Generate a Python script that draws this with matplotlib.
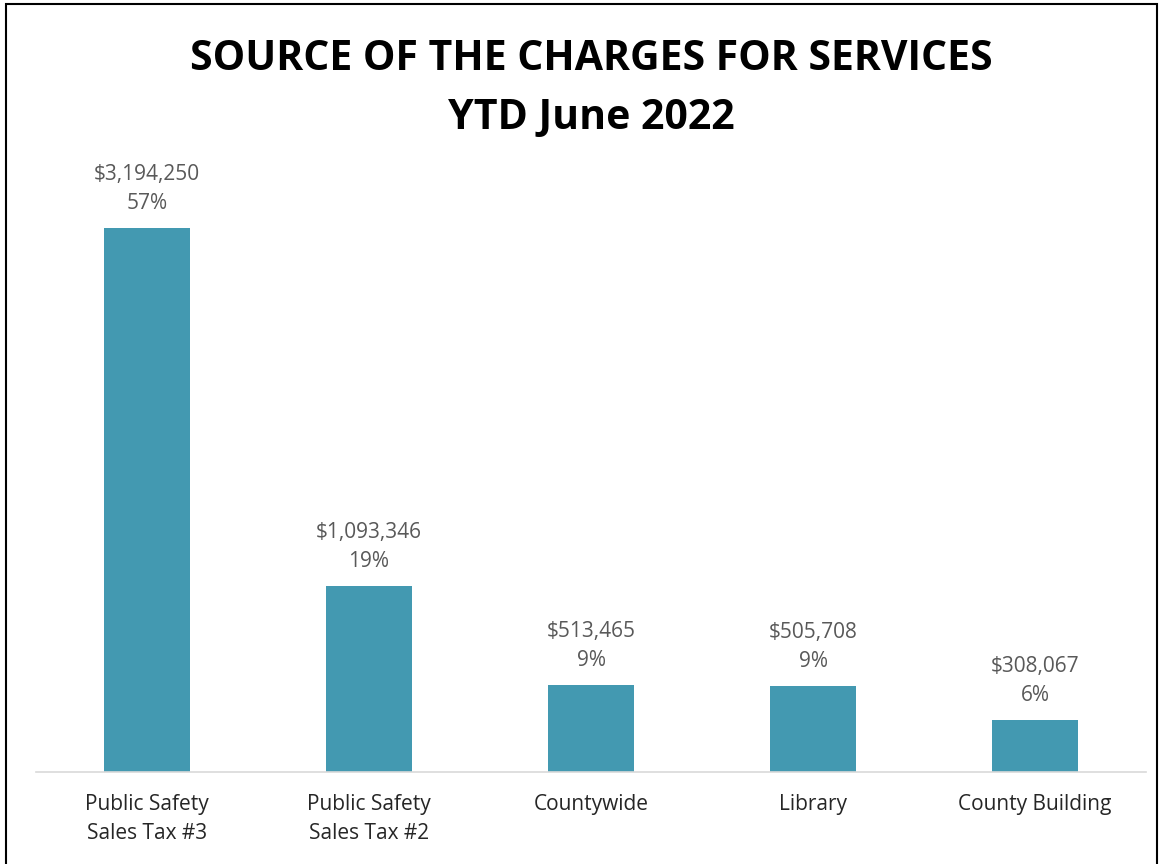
import matplotlib
matplotlib.use("Agg")
import matplotlib.pyplot as plt
from matplotlib.patches import Rectangle

categories = ["Public Safety\nSales Tax #3", "Public Safety\nSales Tax #2", "Countywide", "Library", "County Building"]
values = [3194250, 1093346, 513465, 505708, 308067]
percents = ["57%", "19%", "9%", "9%", "6%"]
title = "SOURCE OF THE CHARGES FOR SERVICES\nYTD June 2022"

W, H = 1161, 864
fig = plt.figure(figsize=(W / 100, H / 100), dpi=100)
ax = fig.add_axes([36 / W, (H - 772) / H, 1110 / W, 596 / H])

x = list(range(len(categories)))
ax.bar(x, values, width=0.39, color="#4399B1", zorder=2)
ax.set_xlim(-0.5, len(categories) - 0.5)
ax.set_ylim(0, 3500000)

for xi, v, p in zip(x, values, percents):
    ax.annotate(f"${v:,.0f}\n{p}", (xi, v), xytext=(0, 10), textcoords="offset points",
                ha="center", va="bottom", fontsize=15, color="#595959",
                family="Open Sans", linespacing=1.5, annotation_clip=False)

ax.set_xticks(x)
ax.set_xticklabels(categories, fontsize=15, color="#262626", family="Open Sans", linespacing=1.5)
ax.tick_params(axis="x", length=0, pad=16)
ax.set_yticks([])
for s in ["top", "right", "left"]:
    ax.spines[s].set_visible(False)
ax.spines["bottom"].set_color("#D9D9D9")
ax.spines["bottom"].set_linewidth(1.2)

fig.text(591 / W, 1 - 89 / H, title, ha="center", va="center", fontsize=29.5, fontweight="bold",
         family="Open Sans", linespacing=1.58, color="black")

fig.patches.append(Rectangle((6 / W, -0.01), (1157 - 6) / W, (H - 4) / H + 0.01,
                             transform=fig.transFigure, fill=False, edgecolor="black", linewidth=1.5))

fig.savefig("out.png", dpi=100)
